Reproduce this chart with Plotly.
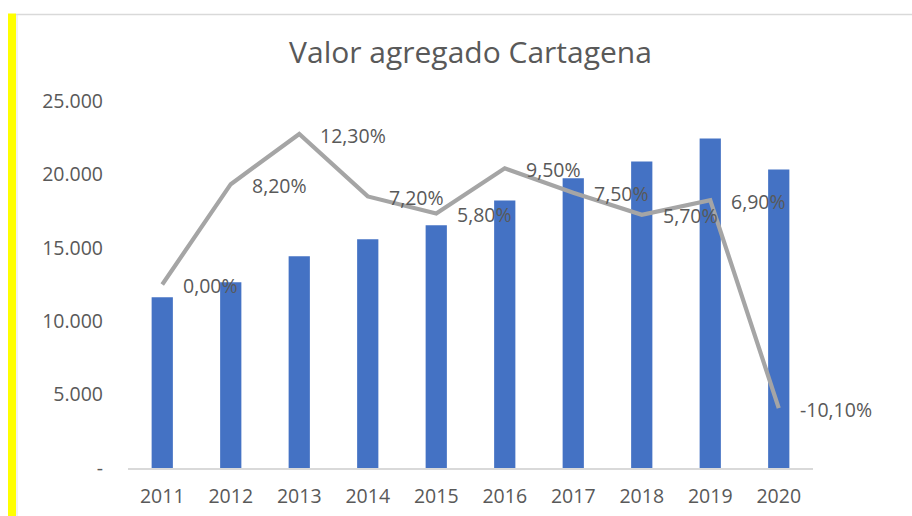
import plotly.graph_objects as go

years = ["2011", "2012", "2013", "2014", "2015", "2016", "2017", "2018", "2019", "2020"]
valor = [11630, 12650, 14420, 15580, 16530, 18230, 19730, 20880, 22450, 20340]
crecimiento = [0.00, 8.20, 12.30, 7.20, 5.80, 9.50, 7.50, 5.70, 6.90, -10.10]
y_tickvals = [0, 5000, 10000, 15000, 20000, 25000]
y_ticktext = ["-", "5.000", "10.000", "15.000", "20.000", "25.000"]
title_text = "Valor agregado Cartagena"

FONT = "Open Sans"
GRAY_TXT = "#595959"

fig = go.Figure()
fig.add_trace(go.Bar(
    x=years, y=valor, marker=dict(color="#4472C4", line=dict(width=0)),
    yaxis="y", showlegend=False, hoverinfo="skip",
))
fig.add_trace(go.Scatter(
    x=years, y=crecimiento, mode="lines", yaxis="y2",
    line=dict(color="#A5A5A5", width=4.2), showlegend=False, hoverinfo="skip",
))

labels = [f"{v:.2f}".replace(".", ",") + "%" for v in crecimiento]
annotations = []
for i, (v, t) in enumerate(zip(crecimiento, labels)):
    annotations.append(dict(
        x=i, y=v, xref="x", yref="y2", text=t, showarrow=False,
        xanchor="left", yanchor="middle", xshift=19, yshift=-1,
        font=dict(family=FONT, size=19.5, color=GRAY_TXT),
    ))

# decoration: yellow strip and light border (paper coords relative to plot area)
L, R, T, B = 128, 813, 100.5, 468
def px(x):
    return (x - L) / (R - L)
def py(y):
    return (B - y) / (B - T)

shapes = [
    dict(type="rect", xref="paper", yref="paper", x0=px(8), x1=px(16), y0=py(516), y1=py(13),
         fillcolor="#FFFF00", line=dict(width=0), layer="below"),
    dict(type="line", xref="paper", yref="paper", x0=px(16), x1=px(912), y0=py(14), y1=py(14),
         line=dict(color="#D9D9D9", width=1.5)),
    dict(type="line", xref="paper", yref="paper", x0=px(17), x1=px(17), y0=py(14), y1=py(516),
         line=dict(color="#E3E3E3", width=1)),
]

fig.update_layout(
    width=912, height=516,
    margin=dict(l=L, r=912 - R, t=T, b=516 - B, autoexpand=False),
    paper_bgcolor="white", plot_bgcolor="white",
    bargap=0.69,
    title=dict(text=title_text, x=0.5, xref="paper", xanchor="center",
               y=1 - 52 / 516, yref="container", yanchor="middle",
               font=dict(family=FONT, size=30, color=GRAY_TXT)),
    xaxis=dict(type="category", categoryorder="array", categoryarray=years,
               range=[-0.5, len(years) - 0.5], autorange=False,
               showgrid=False, showline=True, linecolor="#D9D9D9", linewidth=1.5,
               ticks="", tickfont=dict(family=FONT, size=19.5, color=GRAY_TXT),
               ticklabelstandoff=10, zeroline=False, automargin=False),
    yaxis=dict(range=[0, 25000], autorange=False, tickvals=y_tickvals, ticktext=y_ticktext,
               showgrid=False, showline=False, zeroline=False, ticks="",
               tickfont=dict(family=FONT, size=19.5, color=GRAY_TXT),
               ticklabelstandoff=24, automargin=False),
    yaxis2=dict(range=[-15, 15], autorange=False, overlaying="y", side="right", visible=False),
    annotations=annotations,
    shapes=shapes,
)

fig.write_html("out.html", config={"displayModeBar": False},
               post_script="document.body.style.margin='0';")
